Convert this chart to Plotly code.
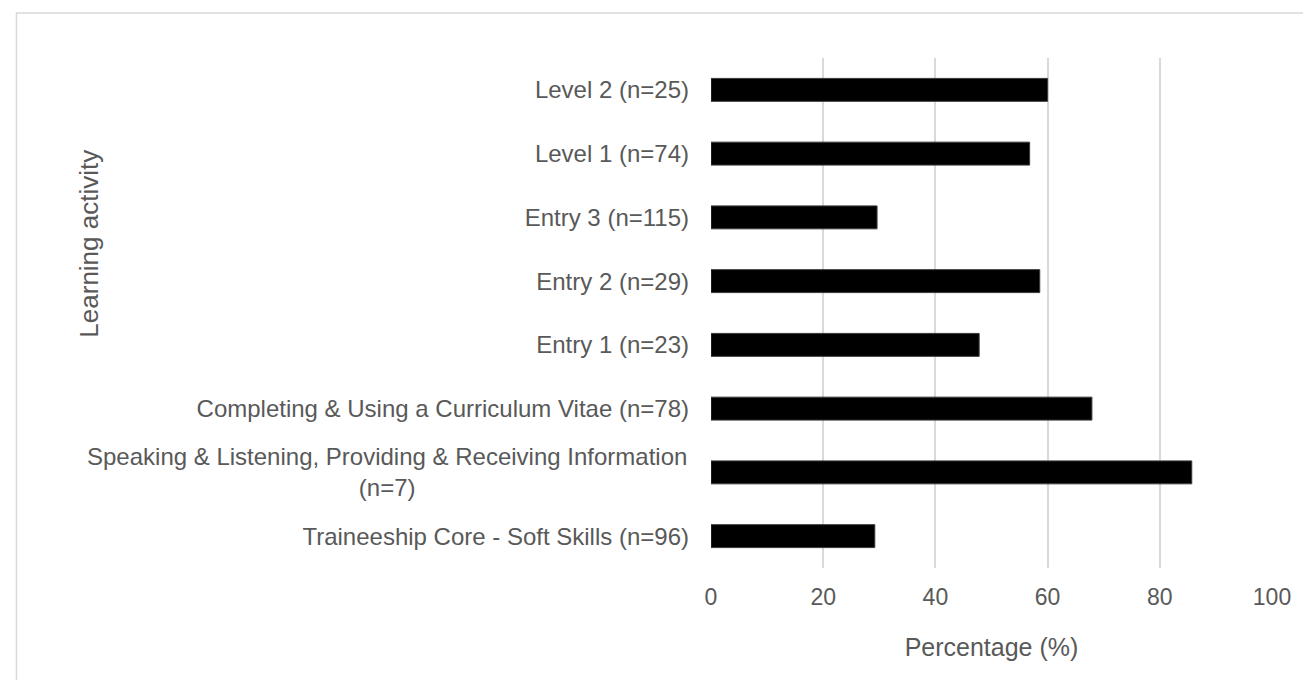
import plotly.graph_objects as go

categories = [
    "Traineeship Core - Soft Skills (n=96)",
    "Speaking & Listening, Providing & Receiving Information (n=7)",
    "Completing & Using a Curriculum Vitae (n=78)",
    "Entry 1 (n=23)",
    "Entry 2 (n=29)",
    "Entry 3 (n=115)",
    "Level 1 (n=74)",
    "Level 2 (n=25)",
]
percentages = [29.2, 85.7, 67.9, 47.8, 58.6, 29.6, 56.8, 60.0]
x_ticks = [0, 20, 40, 60, 80, 100]
# the long label is drawn on two centred lines
wrapped = {
    "Speaking & Listening, Providing & Receiving Information (n=7)":
        "Speaking & Listening, Providing & Receiving Information<br>(n=7)",
}

W, H = 1303, 680
L, R, T, B = 711, 25, 58, 112
FONT = "Liberation Sans, Arial, sans-serif"
GREY = "#595959"
YFS = 24
STANDOFF = 21

fig = go.Figure(go.Bar(
    y=categories, x=percentages, orientation="h",
    marker=dict(color="#000000", line=dict(color="#3a3a3a", width=1)),
    hoverinfo="x+y",
))

ticktext = ["" if c in wrapped else c for c in categories]

annotations = [dict(
    text="Learning activity", textangle=-90, xref="paper", yref="paper",
    x=(82 - L) / (W - L - R), y=(H - B - 244) / (H - T - B),
    showarrow=False, xanchor="center", yanchor="middle",
    font=dict(size=26, color=GREY),
)]
for cat, txt in wrapped.items():
    annotations.append(dict(
        text=txt, xref="paper", yref="y", x=0, y=cat,
        xanchor="right", yanchor="middle", align="center", showarrow=False,
        xshift=-(STANDOFF + 1), font=dict(size=YFS, color=GREY),
    ))

fig.update_layout(
    width=W, height=H,
    margin=dict(l=L, r=R, t=T, b=B),
    paper_bgcolor="white", plot_bgcolor="white",
    bargap=0.64,
    showlegend=False,
    font=dict(family=FONT, size=YFS, color=GREY),
    xaxis=dict(
        range=[0, 100], tickvals=x_ticks, showgrid=True,
        gridcolor="#d9d9d9", gridwidth=1.5, zeroline=False,
        showline=False, ticks="", ticklabelstandoff=13,
        tickfont=dict(size=23, color=GREY),
        title=dict(text="Percentage (%)", font=dict(size=25, color=GREY), standoff=29),
    ),
    yaxis=dict(
        showgrid=False, zeroline=False, showline=False, ticks="",
        tickmode="array", tickvals=categories, ticktext=ticktext,
        ticklabelstandoff=STANDOFF, tickfont=dict(size=YFS, color=GREY),
    ),
    shapes=[dict(
        type="rect", xref="paper", yref="paper",
        x0=(9 - L) / (W - L - R), x1=(W + 20 - L) / (W - L - R),
        y0=(H - B - (H + 20)) / (H - T - B), y1=(H - B - 13) / (H - T - B),
        line=dict(color="#d9d9d9", width=1.5), fillcolor="rgba(0,0,0,0)", layer="below",
    )],
    annotations=annotations,
)

fig.write_html("out.html")
